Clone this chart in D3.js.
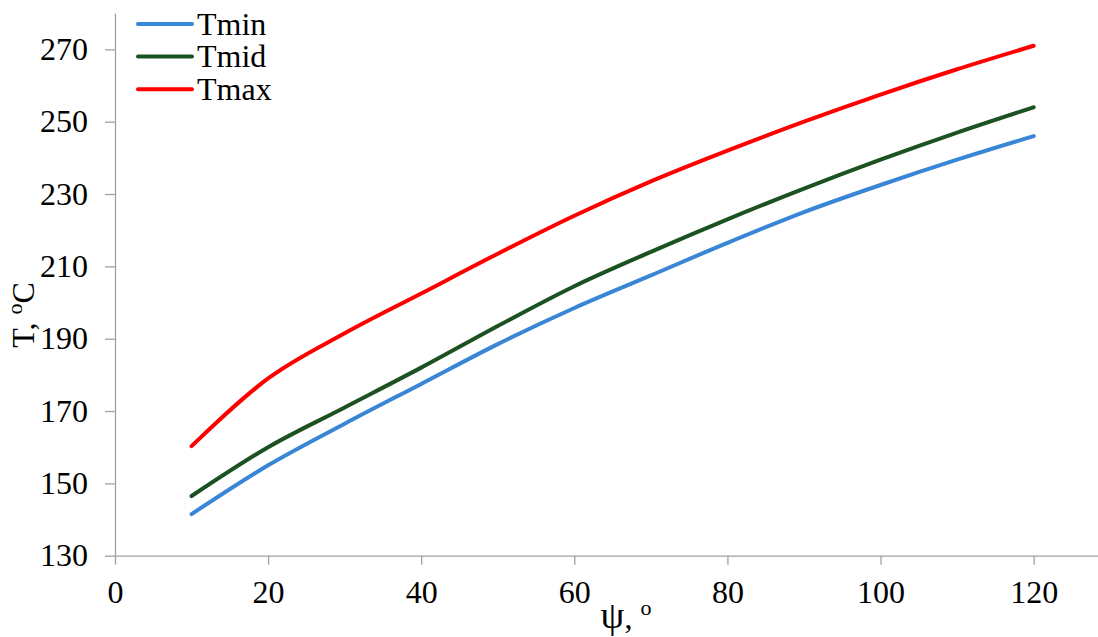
<!DOCTYPE html>
<html>
<head>
<meta charset="utf-8">
<script src="https://cdn.jsdelivr.net/npm/d3@7"></script>
<style>
  html, body { margin: 0; padding: 0; background: #fff; }
  svg { display: block; font-family: "Liberation Serif", "Times New Roman", serif; }
</style>
</head>
<body>
<div id="chart"></div>
<script>
// angle psi, degrees
var psi = [10, 20, 30, 40, 50, 60, 70, 80, 90, 100, 110, 120];
// temperatures, C
var tMin = [141.5, 155, 166.5, 177.5, 188.5, 198.5, 207.5, 216.5, 225, 232.5, 239.5, 246];
var tMid = [146.5, 160, 171, 182, 193.5, 204.5, 214, 223, 231.5, 239.5, 247, 254];
var tMax = [160.3, 179, 191.5, 202.5, 213.5, 224, 233.5, 242, 250, 257.5, 264.5, 271];
var seriesNames = ['Tmin', 'Tmid', 'Tmax'];
var xTicks = [0, 20, 40, 60, 80, 100, 120];
var yTicks = [130, 150, 170, 190, 210, 230, 250, 270];

var colors = ['#3a86d6', '#1c5221', '#ff0000'];
var axisColor = '#a0a0a0';
var width = 1098,
    height = 637;

var x = d3.scaleLinear().domain([0, 130]).range([115, 1110.2]);
var y = d3.scaleLinear().domain([130, 280]).range([555.7, 13.2]);

var svg = d3.select('#chart').append('svg')
    .attr('width', width)
    .attr('height', height);

// x axis
var gx = svg.append('g')
    .attr('transform', 'translate(0,' + y(130) + ')')
    .call(d3.axisBottom(x).tickValues(xTicks).tickSize(9).tickSizeOuter(0).tickPadding(16));
// y axis
var gy = svg.append('g')
    .attr('transform', 'translate(' + x(0) + ',0)')
    .call(d3.axisLeft(y).tickValues(yTicks).tickSize(10).tickSizeOuter(0).tickPadding(17));

[gx, gy].forEach(function(g) {
    g.attr('font-family', null).attr('font-size', null);
    g.select('.domain').attr('stroke', axisColor).attr('stroke-width', 1.3);
    g.selectAll('.tick line').attr('stroke', axisColor).attr('stroke-width', 1.3);
    g.selectAll('.tick text').attr('fill', '#000').style('font-size', '32px');
});

// curves
var series = [tMin, tMid, tMax];
var line = d3.line()
    .x(function(d, i) { return x(psi[i]); })
    .y(function(d) { return y(d); })
    .curve(d3.curveMonotoneX);

svg.selectAll('.series').data(series).enter().append('path')
    .attr('class', 'series')
    .attr('d', line)
    .attr('fill', 'none')
    .attr('stroke', function(d, i) { return colors[i]; })
    .attr('stroke-width', 4)
    .attr('stroke-linecap', 'round')
    .attr('stroke-linejoin', 'round');

// legend
var legend = svg.selectAll('.legend').data(seriesNames).enter().append('g')
    .attr('class', 'legend')
    .attr('transform', function(d, i) { return 'translate(138,' + (24 + i * 32.6) + ')'; });
legend.append('line')
    .attr('x1', 0).attr('x2', 54)
    .attr('stroke', function(d, i) { return colors[i]; })
    .attr('stroke-width', 4)
    .attr('stroke-linecap', 'round');
legend.append('text')
    .attr('x', 59)
    .attr('dy', '0.34em')
    .style('font-size', '32px')
    .text(function(d) { return d; });

// axis titles
var xt = svg.append('text')
    .attr('x', 626)
    .attr('y', 628)
    .attr('text-anchor', 'middle')
    .style('font-size', '32px');
xt.append('tspan').style('font-size', '38px').text('\u03c8');
xt.append('tspan').text(', ');
xt.append('tspan').attr('dy', -13).style('font-size', '22px').text('o');

var yt = svg.append('text')
    .attr('transform', 'translate(34,315) rotate(-90)')
    .attr('text-anchor', 'middle')
    .style('font-size', '32px');
yt.append('tspan').text('T, ');
yt.append('tspan').attr('dy', -12).style('font-size', '22px').text('o');
yt.append('tspan').attr('dy', 12).text('C');
</script>
</body>
</html>
